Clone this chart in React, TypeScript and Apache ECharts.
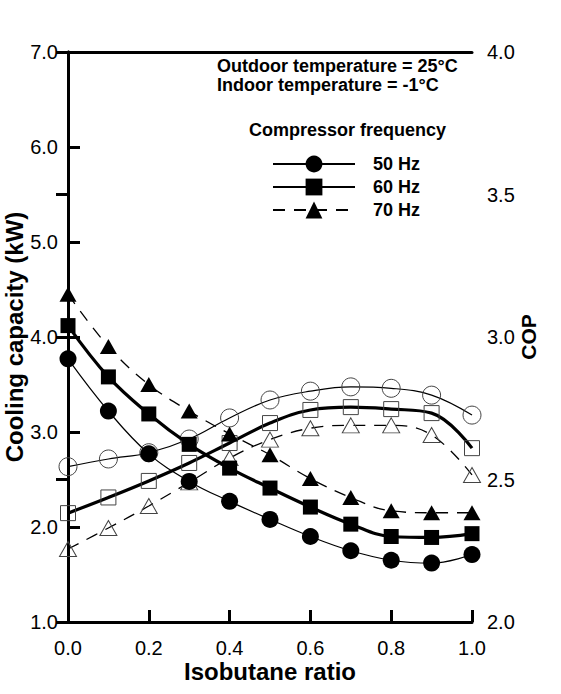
import React, { useEffect, useRef } from "react";
import * as echarts from "echarts";

const ratios = [0.0, 0.1, 0.2, 0.3, 0.4, 0.5, 0.6, 0.7, 0.8, 0.9, 1.0];
const cap50 = [3.77, 3.22, 2.77, 2.48, 2.27, 2.08, 1.9, 1.75, 1.65, 1.62, 1.71];
const cap60 = [4.12, 3.58, 3.19, 2.87, 2.62, 2.41, 2.21, 2.03, 1.9, 1.89, 1.93];
const cap70 = [4.45, 3.9, 3.5, 3.22, 2.98, 2.76, 2.51, 2.31, 2.17, 2.15, 2.15];
const cop50 = [2.545, 2.572, 2.594, 2.642, 2.716, 2.779, 2.81, 2.825, 2.82, 2.796, 2.726];
const cop60 = [2.382, 2.437, 2.495, 2.558, 2.628, 2.698, 2.744, 2.754, 2.747, 2.733, 2.61];
const cop70 = [2.256, 2.33, 2.407, 2.49, 2.575, 2.64, 2.68, 2.69, 2.69, 2.656, 2.516];
const freqNames = ["50 Hz", "60 Hz", "70 Hz"];

const FONT = "Arial, 'Liberation Sans', sans-serif";

function pairs(vals: number[]) {
  return ratios.map((r, i) => [r, vals[i]]);
}

const triangle = "path://M0,-10L10,8L-10,8Z";

export default function App() {
  const ref = useRef<HTMLDivElement>(null);
  useEffect(() => {
    if (!ref.current) return;
    const chart = echarts.init(ref.current, null, { renderer: "svg" });
    const lineStyles = [
      { color: "#000", width: 1.2, type: "solid" as any },
      { color: "#000", width: 3.2, type: "solid" as any },
      { color: "#000", width: 1.3, type: [12, 9] as any },
    ];
    const symbols = ["circle", "rect", triangle];
    const sizes: any[] = [17, 15, [17, 15]];
    const caps = [cap50, cap60, cap70];
    const cops = [cop50, cop60, cop70];
    const series: any[] = [];
    for (let i = 0; i < 3; i++) {
      series.push({
        name: "COP " + freqNames[i],
        type: "line",
        yAxisIndex: 1,
        data: pairs(cops[i]),
        smooth: 0.4,
        symbol: symbols[i],
        symbolSize: i === 0 ? 18 : sizes[i],
        lineStyle: lineStyles[i],
        itemStyle: { color: "transparent", borderColor: "#444", borderWidth: 1 },
        z: 2,
      });
    }
    for (let i = 0; i < 3; i++) {
      series.push({
        name: freqNames[i],
        type: "line",
        yAxisIndex: 0,
        data: pairs(caps[i]),
        smooth: 0.4,
        symbol: symbols[i],
        symbolSize: sizes[i],
        lineStyle: lineStyles[i],
        itemStyle: { color: "#000" },
        z: 3,
      });
    }
    const axisLabel = { color: "#000", fontSize: 20, fontFamily: FONT };
    const nameStyle = { color: "#000", fontSize: 24, fontWeight: "bold" as any, fontFamily: FONT };
    chart.setOption({
      animation: false,
      backgroundColor: "#fff",
      grid: { left: 68, right: 89, top: 52, bottom: 72, containLabel: false, outerBoundsMode: "none" },
      legend: {
        data: freqNames,
        orient: "vertical",
        left: 267,
        top: 150,
        itemWidth: 82,
        itemHeight: 21,
        itemGap: 5,
        selectedMode: false,
        textStyle: { color: "#000", fontSize: 18, fontWeight: "bold", fontFamily: FONT, padding: [0, 0, 0, 13] },
      },
      graphic: [
        {
          type: "text",
          left: 217,
          top: 57,
          style: {
            text: "Outdoor temperature = 25°C",
            fill: "#000",
            font: "bold 18px " + FONT,
          },
        },
        {
          type: "text",
          left: 217,
          top: 75.5,
          style: {
            text: "Indoor temperature = -1°C",
            fill: "#000",
            font: "bold 18px " + FONT,
          },
        },
        {
          type: "text",
          left: 249,
          top: 121,
          style: { text: "Compressor frequency", fill: "#000", font: "bold 18px " + FONT },
        },
      ],
      xAxis: [
        {
          type: "value",
          min: 0,
          max: 1,
          interval: 0.2,
          position: "bottom",
          name: "Isobutane ratio",
          nameLocation: "middle",
          nameGap: 37,
          nameMoveOverlap: false,
          nameTextStyle: nameStyle,
          axisLine: { show: true, lineStyle: { color: "#000", width: 3 } },
          axisTick: { show: true, inside: true, length: 12, lineStyle: { color: "#000", width: 3 } },
          axisLabel: { ...axisLabel, margin: 16, formatter: (v: number) => v.toFixed(1) },
          splitLine: { show: false },
        },
        {
          type: "value",
          min: 0,
          max: 1,
          position: "top",
          axisLine: { show: true, lineStyle: { color: "#000", width: 3 } },
          axisTick: { show: false },
          axisLabel: { show: false },
          splitLine: { show: false },
        },
      ],
      yAxis: [
        {
          type: "value",
          min: 1,
          max: 7,
          interval: 1,
          position: "left",
          name: "Cooling capacity (kW)",
          nameLocation: "middle",
          nameGap: 42,
          nameMoveOverlap: false,
          nameRotate: 90,
          nameTextStyle: { ...nameStyle, fontSize: 24 },
          axisLine: { show: true, lineStyle: { color: "#000", width: 3 } },
          axisTick: { show: true, inside: true, length: 12, lineStyle: { color: "#000", width: 3 } },
          axisLabel: { ...axisLabel, margin: 10, formatter: (v: number) => v.toFixed(1) },
          splitLine: { show: false },
        },
        {
          type: "value",
          min: 2,
          max: 4,
          interval: 0.5,
          position: "right",
          name: "COP",
          nameLocation: "middle",
          nameGap: 46,
          nameMoveOverlap: false,
          nameRotate: 90,
          nameTextStyle: { ...nameStyle, fontSize: 21 },
          axisLine: { show: true, lineStyle: { color: "#000", width: 3 } },
          axisTick: { show: true, inside: true, length: 12, lineStyle: { color: "#000", width: 3 } },
          axisLabel: { ...axisLabel, margin: 15, formatter: (v: number) => v.toFixed(1) },
          splitLine: { show: false },
        },
      ],
      series,
    });
    return () => chart.dispose();
  }, []);
  return <div ref={ref} style={{ width: 561, height: 694, position: "absolute", left: 0, top: 0 }} />;
}
